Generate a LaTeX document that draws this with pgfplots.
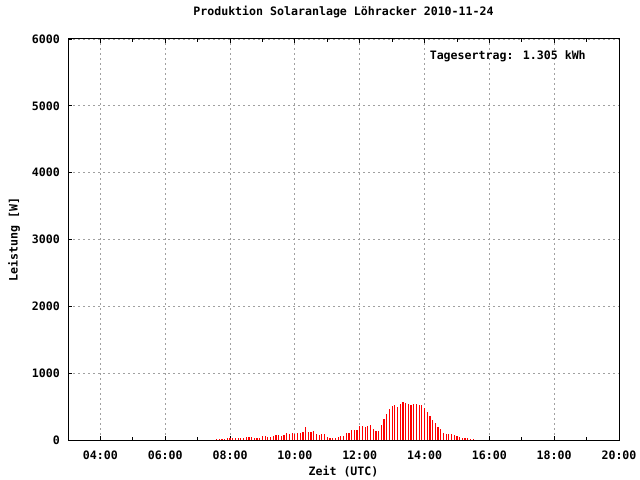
\documentclass[border=0pt]{standalone}
\usepackage{fontspec}
\setmainfont{DejaVu Sans Mono}
\usepackage{pgfplots}
\pgfplotsset{compat=1.18}

\definecolor{gridgray}{RGB}{160,160,160}

% Leistung in W, x = Minuten seit 00:00 UTC
\pgfplotstableread{
min  watt
455  15
460  15
465  15
470  15
475  30
480  30
485  30
490  30
495  30
500  30
505  30
510  45
515  45
520  45
525  30
530  30
535  30
540  60
545  60
550  45
555  45
560  60
565  75
570  75
575  60
580  75
585  105
590  95
595  110
600  90
605  105
610  105
615  120
620  195
625  120
630  120
635  135
640  90
645  75
650  90
655  90
660  45
665  30
670  30
675  30
680  45
685  60
690  60
695  105
700  105
705  150
710  150
715  150
720  210
725  210
730  195
735  210
740  225
745  165
750  135
755  135
760  225
765  315
770  390
775  465
780  510
785  525
790  495
795  540
800  570
805  555
810  540
815  525
820  540
825  540
830  525
835  525
840  475
845  420
850  360
855  300
860  255
865  195
870  165
875  105
880  90
885  90
890  90
895  75
900  60
905  45
910  30
915  30
920  30
925  15
930  15
}\leistung

\begin{document}
\fontsize{11.6bp}{14bp}\selectfont\bfseries
\begin{tikzpicture}
\fill[white] (0,0) rectangle (640bp,480bp);
\path[use as bounding box] (0,0) rectangle (640bp,480bp);
\begin{axis}[
    at={(68bp,40bp)}, anchor=south west,
    scale only axis,
    width=551bp, height=401bp,
    xmin=180, xmax=1200,
    ymin=0, ymax=6000,
    xtick={240,360,480,600,720,840,960,1080,1200},
    xticklabels={04:00,06:00,08:00,10:00,12:00,14:00,16:00,18:00,20:00},
    minor x tick num=1,
    ytick={0,1000,2000,3000,4000,5000,6000},
    ytick pos=left,
    tick align=inside,
    major tick length=4bp,
    minor tick length=3bp,
    tick style={black, line width=0.8bp},
    axis line style={line width=1bp},
    /pgf/number format/1000 sep={},
    /pgf/number format/assume math mode=true,
    xticklabel style={anchor=center, yshift=-15bp},
    yticklabel style={anchor=east, xshift=-4bp},
    xmajorgrids, ymajorgrids,
    major grid style={gridgray, line width=0.8bp, dash pattern=on 2bp off 3bp},
    title={Produktion Solaranlage Löhracker 2010-11-24},
    title style={at={(axis description cs:0.5,1.0524)}, anchor=center},
    xlabel={Zeit (UTC)},
    xlabel style={at={(axis description cs:0.5,-0.0798)}, anchor=center},
    ylabel={Leistung [W]},
    ylabel style={at={(axis description cs:-0.098,0.5)}, anchor=center, rotate=0},
]
\addplot[ycomb, red, line width=1.2bp, mark=none] table[x=min, y=watt] {\leistung};
\node[anchor=east, inner sep=0pt] at (axis description cs:0.940,0.9576) {Tagesertrag: 1.305 kWh};
\end{axis}
\end{tikzpicture}
\end{document}
